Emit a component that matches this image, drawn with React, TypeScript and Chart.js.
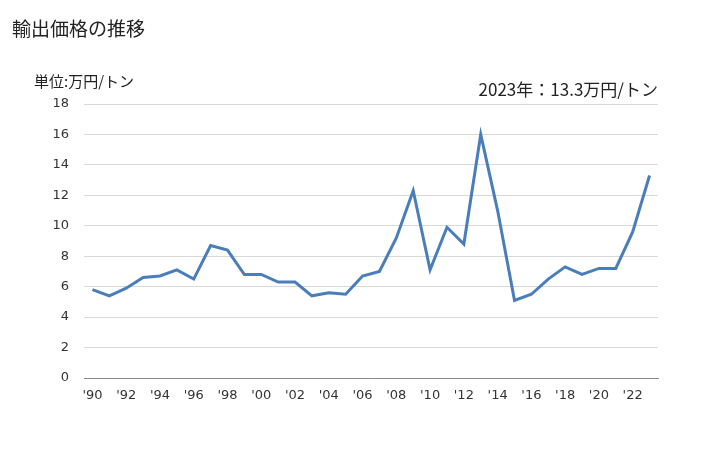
import React, { useEffect, useRef } from "react";
import { Chart, registerables } from "chart.js";

Chart.register(...registerables);

const years: number[] = [
  1990, 1991, 1992, 1993, 1994, 1995, 1996, 1997, 1998, 1999,
  2000, 2001, 2002, 2003, 2004, 2005, 2006, 2007, 2008, 2009,
  2010, 2011, 2012, 2013, 2014, 2015, 2016, 2017, 2018, 2019,
  2020, 2021, 2022, 2023,
];
const prices: number[] = [
  5.8, 5.4, 5.9, 6.6, 6.7, 7.1, 6.5, 8.7, 8.4, 6.8,
  6.8, 6.3, 6.3, 5.4, 5.6, 5.5, 6.7, 7.0, 9.2, 12.3,
  7.1, 9.9, 8.8, 16.0, 11.0, 5.1, 5.5, 6.5, 7.3, 6.8,
  7.2, 7.2, 9.6, 13.3,
];
const yTicks: number[] = [0, 2, 4, 6, 8, 10, 12, 14, 16, 18];

const titleText = "輸出価格の推移";
const unitText = "単位:万円/トン";
const latestText = "2023年：13.3万円/トン";

const jpFont = '"Noto Sans CJK JP", "Noto Sans", sans-serif';
const numFont = '"DejaVu Sans", "Noto Sans", sans-serif';

export default function App() {
  const ref = useRef<HTMLCanvasElement | null>(null);

  useEffect(() => {
    if (!ref.current) return;
    const labels = years.map((y) => "'" + String(y).slice(2));
    const chart = new Chart(ref.current, {
      type: "line",
      data: {
        labels,
        datasets: [
          {
            data: prices,
            borderColor: "#4a7ebb",
            borderWidth: 3,
            pointRadius: 0,
            tension: 0,
            fill: false,
          },
        ],
      },
      options: {
        animation: false,
        responsive: false,
        maintainAspectRatio: false,
        layout: { padding: { left: 0, right: 70, top: 104, bottom: 42 } },
        plugins: { legend: { display: false }, tooltip: { enabled: false }, title: { display: false } },
        scales: {
          x: {
            type: "category",
            offset: true,
            grid: { display: false, drawTicks: false },
            border: { display: true, color: "#888888", width: 1 },
            ticks: {
              autoSkip: false,
              maxRotation: 0,
              minRotation: 0,
              padding: 10,
              color: "#333333",
              font: { family: numFont, size: 13 },
              callback: (_v: any, i: number) => (years[i] % 2 === 0 ? labels[i] : ""),
            },
            afterFit: (s: any) => {
              s.height = 30;
            },
          },
          y: {
            min: yTicks[0],
            max: yTicks[yTicks.length - 1],
            grid: { color: "#d9d9d9", drawTicks: false, lineWidth: 1 },
            border: { display: false },
            afterBuildTicks: (s: any) => {
              s.ticks = yTicks.map((v) => ({ value: v }));
            },
            ticks: {
              padding: 15,
              color: "#333333",
              font: { family: numFont, size: 13 },
            },
            afterFit: (s: any) => {
              s.width = 84;
            },
          },
        },
      },
    });
    return () => chart.destroy();
  }, []);

  return (
    <div style={{ position: "fixed", left: 0, top: 0, width: 728, height: 450, background: "#fff" }}>
      <canvas ref={ref} width={728} height={450} style={{ position: "absolute", left: 0, top: 0 }} />
      <div style={{ position: "absolute", left: 12, top: 14, fontFamily: jpFont, fontSize: 19, lineHeight: "28px", color: "#222", whiteSpace: "nowrap" }}>
        {titleText}
      </div>
      <div style={{ position: "absolute", left: 34, top: 70, fontFamily: jpFont, fontSize: 15, lineHeight: "22px", color: "#222", whiteSpace: "nowrap" }}>
        {unitText}
      </div>
      <div style={{ position: "absolute", right: 70, top: 77, fontFamily: jpFont, fontSize: 17, lineHeight: "24px", color: "#222", whiteSpace: "nowrap" }}>
        {latestText}
      </div>
    </div>
  );
}
